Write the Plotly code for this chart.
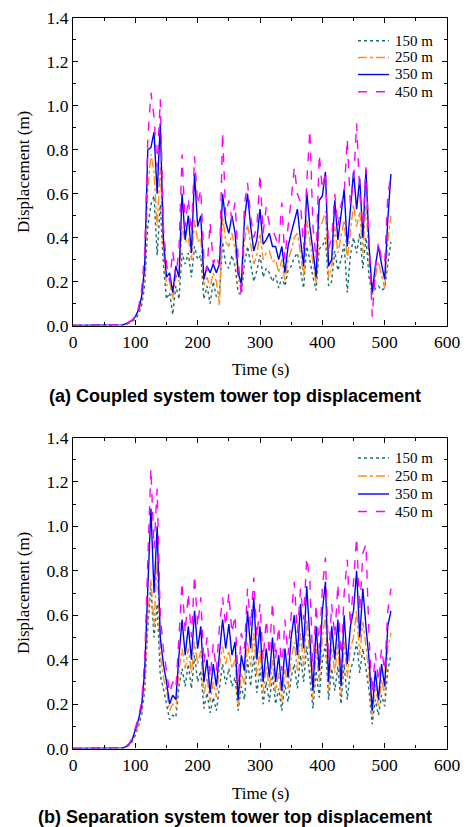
import plotly.graph_objects as go

# time axis (s), shared by both panels
time_s = [0, 20, 40, 60, 70, 75, 80, 85, 90, 95, 100, 105, 110, 115, 120, 125, 130, 135, 140,
          145, 150, 155, 160, 165, 170, 175, 180, 185, 190, 195, 200, 205, 210, 215, 220,
          225, 230, 235, 240, 245, 250, 255, 260, 265, 270, 275, 280, 285, 290, 295, 300,
          305, 310, 315, 320, 325, 330, 335, 340, 345, 350, 355, 360, 365, 370, 375, 380,
          385, 390, 395, 400, 405, 410, 415, 420, 425, 430, 435, 440, 445, 450, 455, 460,
          465, 470, 475, 480, 485, 490, 495, 500, 505, 510]

# (a) coupled system
a_150 = [0, 0, 0, 0, 0, 0, 0.002, 0.005, 0.01, 0.018, 0.03, 0.05, 0.09, 0.18, 0.45, 0.55, 0.59, 0.32, 0.55,
         0.28, 0.12, 0.15, 0.05, 0.18, 0.12, 0.33, 0.28, 0.33, 0.22, 0.36, 0.30, 0.32, 0.12, 0.18, 0.10,
         0.20, 0.13, 0.15, 0.38, 0.28, 0.26, 0.32, 0.27, 0.15, 0.14, 0.28, 0.36, 0.28, 0.20, 0.25, 0.32,
         0.22, 0.26, 0.24, 0.20, 0.23, 0.17, 0.22, 0.18, 0.25, 0.27, 0.31, 0.33, 0.25, 0.17, 0.36, 0.30,
         0.22, 0.16, 0.35, 0.36, 0.40, 0.18, 0.20, 0.34, 0.25, 0.30, 0.37, 0.15, 0.32, 0.40, 0.33, 0.42,
         0.26, 0.40, 0.22, 0.14, 0.17, 0.18, 0.16, 0.17, 0.28, 0.38]
a_250 = [0, 0, 0, 0, 0, 0, 0.003, 0.007, 0.013, 0.022, 0.035, 0.06, 0.11, 0.23, 0.62, 0.78, 0.70, 0.45, 0.72,
         0.35, 0.18, 0.20, 0.12, 0.23, 0.20, 0.45, 0.38, 0.40, 0.30, 0.48, 0.38, 0.40, 0.18, 0.22, 0.17,
         0.24, 0.20, 0.09, 0.50, 0.38, 0.36, 0.42, 0.35, 0.22, 0.16, 0.38, 0.46, 0.37, 0.28, 0.32, 0.42,
         0.30, 0.33, 0.34, 0.29, 0.30, 0.24, 0.30, 0.20, 0.30, 0.34, 0.40, 0.42, 0.33, 0.22, 0.48, 0.38,
         0.28, 0.19, 0.45, 0.47, 0.52, 0.22, 0.26, 0.45, 0.33, 0.40, 0.48, 0.30, 0.42, 0.55, 0.45, 0.52,
         0.33, 0.55, 0.30, 0.14, 0.22, 0.29, 0.23, 0.17, 0.38, 0.50]
a_350 = [0, 0, 0, 0, 0, 0, 0.003, 0.008, 0.015, 0.025, 0.04, 0.07, 0.13, 0.27, 0.80, 0.81, 0.88, 0.60, 0.92,
         0.40, 0.22, 0.24, 0.15, 0.27, 0.22, 0.60, 0.39, 0.50, 0.33, 0.69, 0.45, 0.50, 0.21, 0.27, 0.24,
         0.28, 0.24, 0.28, 0.60, 0.47, 0.42, 0.50, 0.42, 0.24, 0.19, 0.48, 0.60, 0.45, 0.34, 0.39, 0.53,
         0.37, 0.39, 0.42, 0.36, 0.36, 0.30, 0.36, 0.24, 0.36, 0.42, 0.48, 0.53, 0.39, 0.27, 0.61, 0.45,
         0.34, 0.22, 0.57, 0.59, 0.70, 0.27, 0.30, 0.57, 0.39, 0.50, 0.62, 0.36, 0.54, 0.70, 0.53, 0.67,
         0.40, 0.71, 0.36, 0.15, 0.27, 0.36, 0.28, 0.21, 0.48, 0.69]
a_450 = [0, 0, 0, 0, 0, 0, 0.003, 0.008, 0.015, 0.025, 0.045, 0.08, 0.16, 0.33, 0.85, 1.06, 0.95, 0.72, 1.03,
         0.45, 0.28, 0.20, 0.34, 0.22, 0.35, 0.78, 0.45, 0.58, 0.42, 0.77, 0.55, 0.62, 0.30, 0.25, 0.47,
         0.28, 0.32, 0.27, 0.88, 0.50, 0.57, 0.48, 0.56, 0.30, 0.13, 0.55, 0.65, 0.50, 0.40, 0.45, 0.69,
         0.42, 0.54, 0.46, 0.44, 0.40, 0.36, 0.56, 0.30, 0.45, 0.57, 0.72, 0.60, 0.56, 0.35, 0.65, 0.89,
         0.45, 0.30, 0.78, 0.62, 0.70, 0.35, 0.40, 0.60, 0.45, 0.55, 0.60, 0.85, 0.55, 0.65, 0.92, 0.60,
         0.45, 0.72, 0.40, 0.04, 0.25, 0.38, 0.30, 0.28, 0.59, 0.69]

# (b) separation system
b_150 = [0, 0, 0, 0, 0, 0.001, 0.002, 0.006, 0.014, 0.03, 0.06, 0.10, 0.15, 0.26, 0.55, 0.72, 0.50, 0.65, 0.33,
         0.27, 0.20, 0.13, 0.15, 0.14, 0.28, 0.36, 0.28, 0.38, 0.27, 0.42, 0.30, 0.35, 0.18, 0.25, 0.16,
         0.23, 0.17, 0.28, 0.38, 0.29, 0.36, 0.28, 0.32, 0.17, 0.28, 0.22, 0.40, 0.28, 0.42, 0.25, 0.36,
         0.20, 0.30, 0.21, 0.33, 0.20, 0.27, 0.17, 0.29, 0.21, 0.32, 0.38, 0.27, 0.42, 0.30, 0.46, 0.33,
         0.18, 0.35, 0.23, 0.40, 0.47, 0.22, 0.36, 0.26, 0.37, 0.20, 0.38, 0.22, 0.35, 0.40, 0.48, 0.34,
         0.45, 0.36, 0.26, 0.11, 0.22, 0.15, 0.24, 0.19, 0.35, 0.42]
b_250 = [0, 0, 0, 0, 0, 0.001, 0.002, 0.007, 0.017, 0.035, 0.07, 0.11, 0.17, 0.30, 0.60, 0.76, 0.55, 0.84, 0.42,
         0.32, 0.26, 0.17, 0.20, 0.18, 0.35, 0.45, 0.36, 0.45, 0.34, 0.48, 0.38, 0.44, 0.24, 0.32, 0.21,
         0.30, 0.23, 0.37, 0.46, 0.38, 0.44, 0.36, 0.40, 0.19, 0.34, 0.29, 0.48, 0.37, 0.52, 0.33, 0.44,
         0.25, 0.37, 0.27, 0.40, 0.25, 0.34, 0.21, 0.36, 0.27, 0.40, 0.48, 0.35, 0.52, 0.37, 0.58, 0.42,
         0.22, 0.45, 0.30, 0.50, 0.60, 0.26, 0.45, 0.34, 0.47, 0.24, 0.48, 0.32, 0.45, 0.50, 0.62, 0.42,
         0.57, 0.46, 0.33, 0.15, 0.29, 0.19, 0.31, 0.24, 0.45, 0.52]
b_350 = [0, 0, 0, 0, 0, 0.001, 0.003, 0.008, 0.02, 0.04, 0.08, 0.13, 0.19, 0.35, 0.72, 1.08, 0.70, 1.00, 0.50,
         0.38, 0.30, 0.20, 0.24, 0.22, 0.42, 0.58, 0.42, 0.55, 0.40, 0.62, 0.45, 0.55, 0.30, 0.40, 0.25,
         0.38, 0.28, 0.45, 0.58, 0.45, 0.56, 0.42, 0.48, 0.22, 0.42, 0.35, 0.62, 0.45, 0.68, 0.40, 0.55,
         0.30, 0.45, 0.32, 0.50, 0.30, 0.42, 0.26, 0.45, 0.32, 0.50, 0.60, 0.42, 0.65, 0.45, 0.73, 0.50,
         0.26, 0.55, 0.35, 0.62, 0.75, 0.30, 0.55, 0.40, 0.58, 0.28, 0.60, 0.38, 0.55, 0.62, 0.80, 0.50,
         0.72, 0.55, 0.40, 0.17, 0.35, 0.22, 0.38, 0.28, 0.55, 0.62]
b_450 = [0, 0, 0, 0, 0, 0.001, 0.003, 0.01, 0.022, 0.045, 0.09, 0.14, 0.21, 0.40, 0.85, 1.26, 0.90, 1.17, 0.60,
         0.45, 0.35, 0.25, 0.30, 0.27, 0.50, 0.75, 0.52, 0.70, 0.50, 0.78, 0.55, 0.68, 0.38, 0.50, 0.32,
         0.47, 0.35, 0.55, 0.68, 0.55, 0.70, 0.52, 0.60, 0.30, 0.52, 0.45, 0.72, 0.55, 0.77, 0.50, 0.65,
         0.40, 0.58, 0.42, 0.66, 0.40, 0.55, 0.35, 0.58, 0.42, 0.60, 0.75, 0.52, 0.72, 0.58, 0.86, 0.75,
         0.35, 0.65, 0.45, 0.72, 0.86, 0.40, 0.65, 0.50, 0.74, 0.38, 0.70, 0.85, 0.55, 0.75, 0.95, 0.62,
         0.88, 0.92, 0.50, 0.25, 0.43, 0.30, 0.45, 0.35, 0.62, 0.72]

names = ['150 m', '250 m', '350 m', '450 m']
colors = ['#1f6e6e', '#ff8c1a', '#0000ff', '#ff00ff']
dashes = ['dot', 'dashdot', 'solid', 'dash']

serif = 'Liberation Serif'
W, H = 467, 827


def px_x(p):
    return p / W


def px_y(p):
    return 1 - p / H


fig = go.Figure()

panels = [(a_150, a_250, a_350, a_450), (b_150, b_250, b_350, b_450)]
for k, series in enumerate(panels):
    xa = 'x' if k == 0 else 'x2'
    ya = 'y' if k == 0 else 'y2'
    for i, vals in enumerate(series):
        fig.add_trace(go.Scatter(x=time_s, y=vals, mode='lines', name=names[i],
                                 line=dict(color=colors[i], dash=dashes[i], width=1.4),
                                 xaxis=xa, yaxis=ya, showlegend=False))

axis_common = dict(showline=True, linecolor='black', linewidth=1.2, mirror='ticks',
                   ticks='inside', ticklen=5, tickwidth=1, tickcolor='black',
                   showgrid=False, zeroline=False, automargin=False,
                   tickfont=dict(family=serif, size=17.5, color='black'),
                   minor=dict(ticks='inside', ticklen=3, tickwidth=1, tickcolor='black'))

xdom = [px_x(73), px_x(447)]
fig.update_layout(
    width=W, height=H,
    margin=dict(l=0, r=0, t=0, b=0),
    paper_bgcolor='white', plot_bgcolor='white',
    showlegend=False,
    xaxis=dict(domain=xdom, anchor='y', range=[0, 600], dtick=100,
               minor_dtick=50, **axis_common),
    yaxis=dict(domain=[px_y(325.5), px_y(18)], anchor='x', range=[0, 1.4], dtick=0.2,
               tickformat='.1f', minor_dtick=0.1, **axis_common),
    xaxis2=dict(domain=xdom, anchor='y2', range=[0, 600], dtick=100,
                minor_dtick=50, **axis_common),
    yaxis2=dict(domain=[px_y(748.5), px_y(437.5)], anchor='x2', range=[0, 1.4], dtick=0.2,
                tickformat='.1f', minor_dtick=0.1, **axis_common),
)

# hand-placed legend boxes (sample line + label), one per panel
legend_rows = [[40.7, 57.5, 74.5, 91.7], [458, 476, 494, 511.5]]
for rows in legend_rows:
    for i, ry in enumerate(rows):
        fig.add_shape(type='line', xref='paper', yref='paper',
                      x0=px_x(358), x1=px_x(389), y0=px_y(ry), y1=px_y(ry),
                      line=dict(color=colors[i], dash=dashes[i], width=1.4))
        fig.add_annotation(text=names[i], x=px_x(393), y=px_y(ry), xref='paper', yref='paper',
                           showarrow=False, xanchor='left', yanchor='middle',
                           font=dict(family=serif, size=15, color='black'))

annots = [
    ('Time (s)', 260, 369, 0, serif, 17, False),
    ('Time (s)', 260, 793, 0, serif, 17, False),
    ('Displacement (m)', 23, 172, -90, serif, 17, False),
    ('Displacement (m)', 23, 593, -90, serif, 17, False),
    ('(a) Coupled system tower top displacement', 235, 396, 0, 'Liberation Sans', 18, True),
    ('(b) Separation system tower top displacement', 235, 817, 0, 'Liberation Sans', 18, True),
]
for text, x, y, ang, fam, size, bold in annots:
    fig.add_annotation(text='<b>%s</b>' % text if bold else text, x=px_x(x), y=px_y(y),
                       xref='paper', yref='paper', showarrow=False, textangle=ang,
                       xanchor='center', yanchor='middle',
                       font=dict(family=fam, size=size, color='black'))

# the page's default body margin would push the fixed-size figure off the window
fig.write_html("out.html", config={'displayModeBar': False},
               post_script="document.body.style.margin='0';document.body.style.overflow='hidden';")
